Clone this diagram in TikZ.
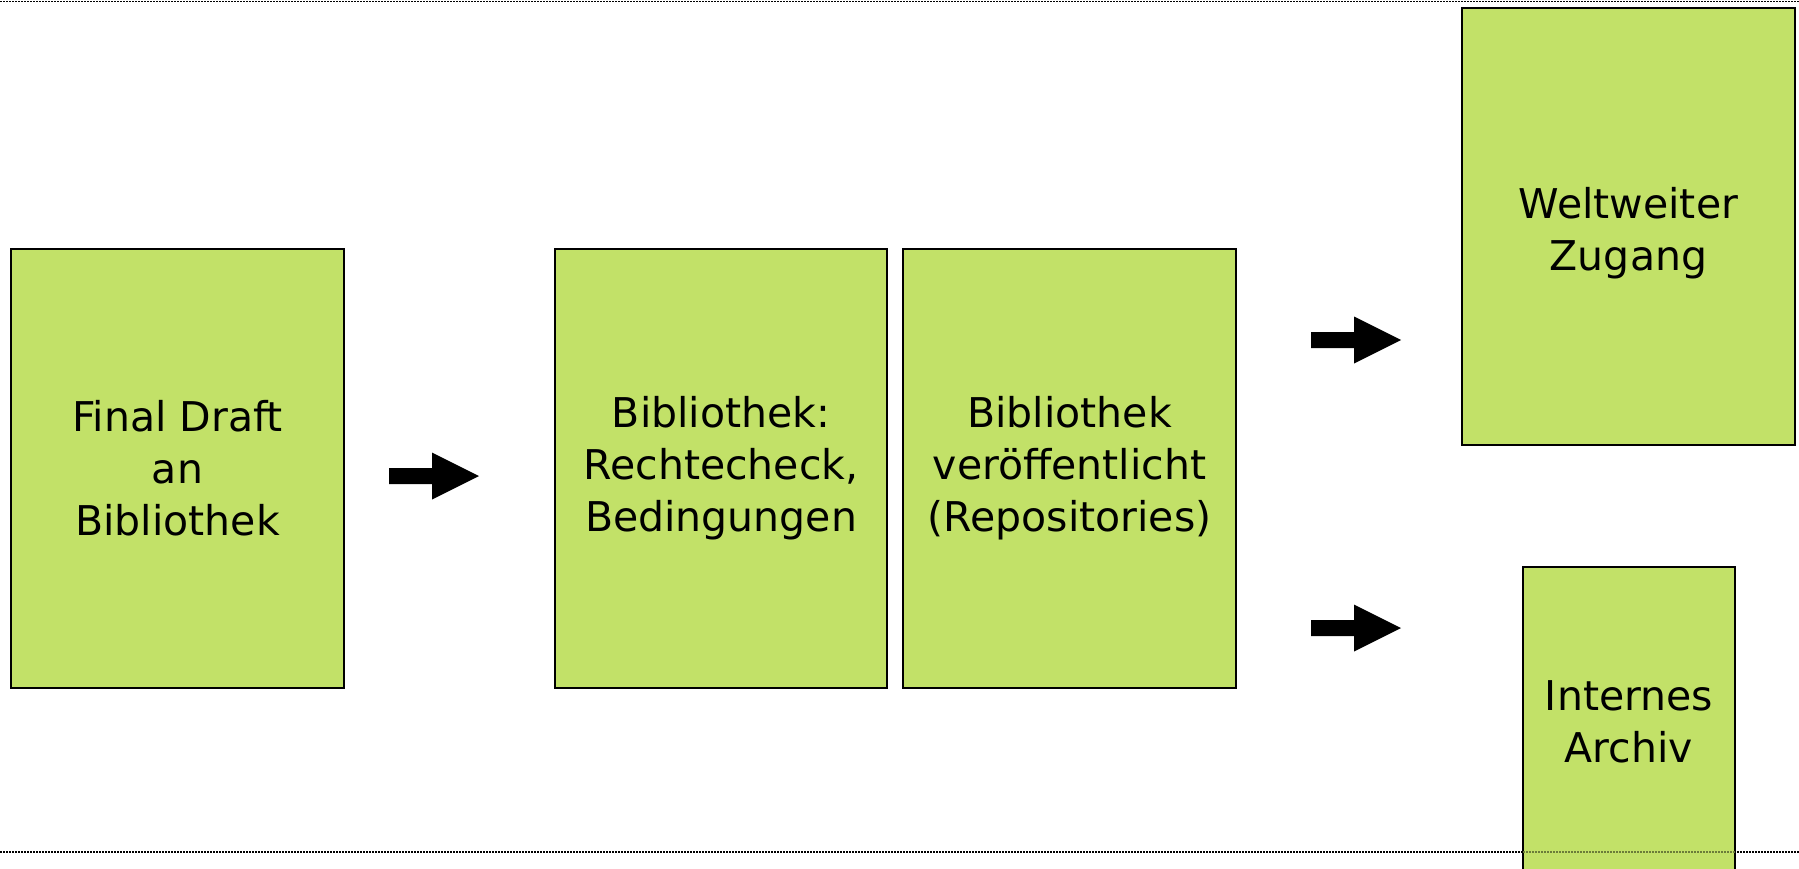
\documentclass[tikz,border=0pt]{standalone}
\usepackage{fontspec}
\setmainfont{DejaVu Sans}
\definecolor{boxgreen}{HTML}{C2E168}
\tikzset{
  boxtext/.style={inner sep=0pt, align=center, font=\fontsize{41}{52}\selectfont},
  stepbox/.style={draw=black, line width=2pt, fill=boxgreen, boxtext},
  sepline/.style={line width=1.6pt, dash pattern=on 1.6pt off 1.4pt, black},
  barrow/.pic={\fill[black] (0,-8) -- (43,-8) -- (43,-23.5) -- (90,0) -- (43,23.5) -- (43,8) -- (0,8) -- cycle;}
}
\begin{document}
\begin{tikzpicture}[x=1pt,y=-1pt]
\useasboundingbox (0,0) rectangle (1799,868);
\clip (0,0) rectangle (1799,868);
\draw[sepline] (0,1.4) coordinate (tl) -- (1799,1.4) coordinate (tr);
\draw[sepline] (0,852) coordinate (bl) -- (1799,852) coordinate (br);
\node[stepbox, minimum width=333pt, minimum height=439pt] (a) at (177.5,468.5) {Final Draft\\an\\Bibliothek};
\node[stepbox, minimum width=332pt, minimum height=439pt] (b) at (721,468.5) {Bibliothek:\\Rechtecheck,\\Bedingungen};
\node[stepbox, minimum width=333pt, minimum height=439pt] (c) at (1069.5,468.5) {Bibliothek\\ver\"offentlicht\\(Repositories)};
\node[stepbox, minimum width=333pt, minimum height=437pt] (d) at (1628.5,226.5) {};
\node[boxtext] (dl) at ([yshift=-7pt]d.center) {Weltweiter\\Zugang};
\node[stepbox, minimum width=212pt, minimum height=310pt] (e) at (1629,722) {Internes\\Archiv};
\draw[sepline, draw=black!45!boxgreen] ([xshift=1pt]e.west |- bl) -- ([xshift=-1pt]e.east |- bl);
\pic at (389,476) {barrow};
\pic at (1311,340) {barrow};
\pic at (1311,628) {barrow};
\end{tikzpicture}
\end{document}
